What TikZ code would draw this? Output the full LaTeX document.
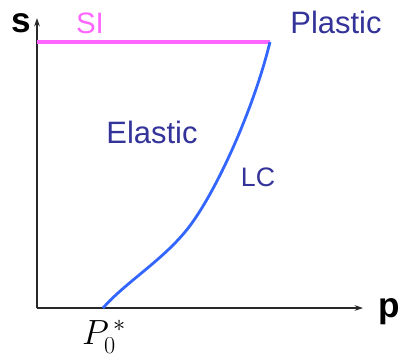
\documentclass[tikz,border=0pt]{standalone}
\usepackage{fontspec}
\setmainfont{Liberation Sans}
\usetikzlibrary{arrows.meta, positioning}
\definecolor{silinecolor}{RGB}{255,102,255}
\definecolor{lccolor}{RGB}{51,102,255}
\definecolor{labelcolor}{RGB}{51,51,153}
\definecolor{axiscolor}{RGB}{40,40,40}

\begin{document}
\begin{tikzpicture}[
    x=0.025cm, y=-0.025cm,
    every node/.style={inner sep=0pt, outer sep=0pt},
    axis/.style={-{Stealth[length=6pt, width=4pt]}, line width=0.9pt, draw=axiscolor},
    axislabel/.style={font=\fontsize{25}{25}\selectfont\bfseries, text=black},
    region/.style={font=\fontsize{#1}{#1}\selectfont, text=labelcolor},
    siline/.style={line width=2.8pt, draw=silinecolor},
    lcline/.style={line width=2pt, draw=lccolor},
]
\useasboundingbox (0,0) rectangle (400,358);

%% Axes
\coordinate (O) at (37,308);
\coordinate (stop) at (37,18);
\coordinate (pend) at (363,308);
\draw[axis] (O) -- (stop);
\draw[axis] (O) -- (pend);
\node[axislabel] (slabel) at (21,23) {s};
\node[axislabel] (plabel) at (389,312) {p};

%% SI line
\coordinate (sileft) at (37,42);
\coordinate (sitop) at (270,42);
\draw[siline] (sileft) -- (sitop);
\node[font=\fontsize{21}{21}\selectfont, text=silinecolor] (si) at (90,23) {SI};

%% LC curve
\coordinate (pzero) at (103,308);
\coordinate (lcmid) at (185,232);
\draw[lcline] (pzero) .. controls (125,283) and (160,262) .. (lcmid)
    .. controls (212,200) and (252,115) .. (sitop);
\node (pzerolabel) at (104,337) {\fontsize{26}{26}\selectfont$P_0^{\,*}$};

%% Region labels
\node[region=22] (plastic) at (336,22) {Plastic};
\node[region=22] (elastic) at (152,132) {Elastic};
\node[region=19] (lc) at (258,177) {LC};

\end{tikzpicture}
\end{document}
